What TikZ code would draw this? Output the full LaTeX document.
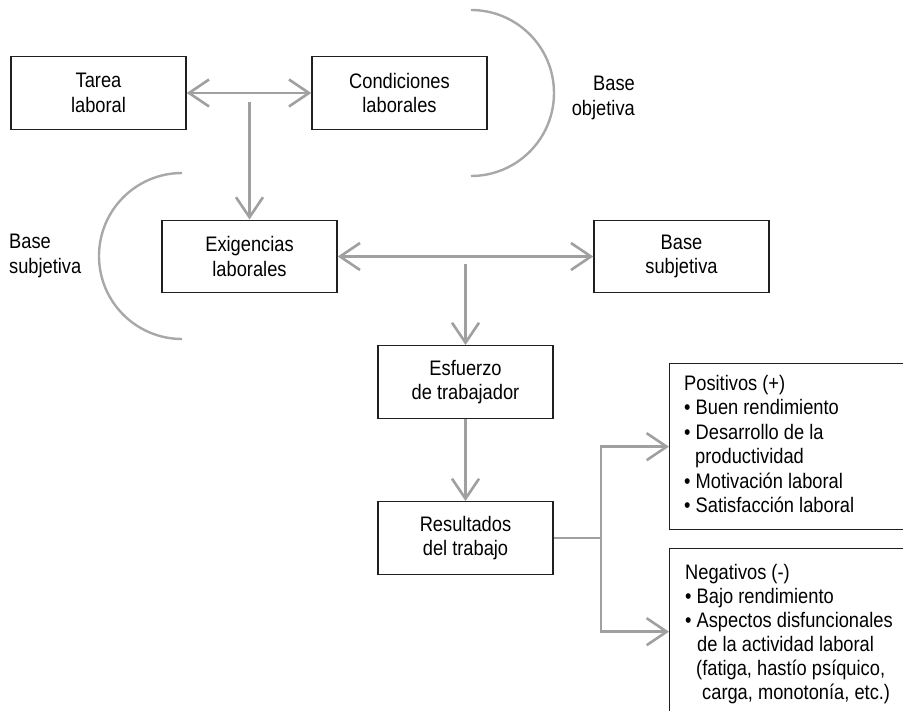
\documentclass[tikz,border=0pt]{standalone}
\usepackage{fontspec}
\setmainfont{Liberation Sans}[FakeStretch=0.87]
\usetikzlibrary{arrows.meta}
\definecolor{arrgray}{HTML}{A0A0A0}
\definecolor{arcgray}{HTML}{A8A8A8}
\definecolor{boxline}{HTML}{231F20}
\tikzset{
  every node/.style={font=\fontsize{21bp}{24.5bp}\selectfont, text=black},
  rbox/.style={draw=boxline, line width=1.4bp, minimum width=175bp, minimum height=72.5bp, align=center, inner sep=0pt},
  listbox/.style={draw=boxline, line width=1.4bp, inner sep=0pt, anchor=north west},
  listtext/.style={anchor=north west, align=left, inner sep=0pt},
  conn/.style={draw=arrgray, line width=2.6bp},
  arr/.style={conn, -{Straight Barb[length=20bp, width=27bp, line width=2.6bp]}},
  darr/.style={conn, {Straight Barb[length=20bp, width=27bp, line width=2.6bp]}-{Straight Barb[length=20bp, width=27bp, line width=2.6bp]}},
  arcline/.style={draw=arcgray, line width=2.4bp},
}
\begin{document}
\begin{tikzpicture}[x=1bp, y=-1bp]
\useasboundingbox (0,0) rectangle (903,711);
\clip (0,0) rectangle (903,711);

% boxes
\node[rbox] (tarea) at (98.5,93) {Tarea\\laboral};
\node[rbox] (cond) at (399.5,93) {Condiciones\\laborales};
\node[rbox] (exig) at (249.5,256.5) {Exigencias\\laborales};
\node[rbox] (bsub) at (681.5,256.5) {Base\\subjetiva};
\node[rbox] (esf) at (465.5,382) {Esfuerzo\\de trabajador};
\node[rbox] (res) at (465.5,538) {Resultados\\del trabajo};

% list boxes (running off the right edge)
\node[listbox, minimum width=260bp, minimum height=166bp] (pos) at (669,363) {};
\node[listbox, minimum width=260bp, minimum height=166bp] (neg) at (669,548) {};

\node[listtext] (postext) at (684,374.6) {Positivos (+)\\
• Buen rendimiento\\
• Desarrollo de la\\
\hspace*{11bp}productividad\\
• Motivación laboral\\
• Satisfacción laboral};

\node[listtext, font=\fontsize{21bp}{24bp}\selectfont] (negtext) at (685,563.7) {Negativos (-)\\
• Bajo rendimiento\\
• Aspectos disfuncionales\\
\hspace*{12bp}de la actividad laboral\\
\hspace*{11bp}(fatiga, hastío psíquico,\\
\hspace*{17bp}carga, monotonía, etc.)};

% side labels
\node[align=right, anchor=east, inner sep=0pt] (bobj) at (635,98) {Base\\objetiva};
\node[align=left, anchor=west, inner sep=0pt] (bsubl) at (9,256) {Base\\subjetiva};

% arcs
\draw[arcline] (471,10) arc[start angle=-90, end angle=90, radius=83];
\draw[arcline] (182,173) arc[start angle=-90, end angle=-270, radius=83];

% connectors
\coordinate (c1) at (249.5,102);
\coordinate (c2) at (465.5,264);
\coordinate (br) at (601,538);

\draw[darr] (tarea) -- (cond);
\draw[arr] (c1) -- (exig);
\draw[darr] (exig) -- (bsub);
\draw[arr] (c2) -- (esf);
\draw[arr] (esf) -- (res);
\draw[conn] (res) -- (br);
\draw[arr] (br) |- (pos.west);
\draw[arr] (br) |- (neg.west);
\end{tikzpicture}
\end{document}
